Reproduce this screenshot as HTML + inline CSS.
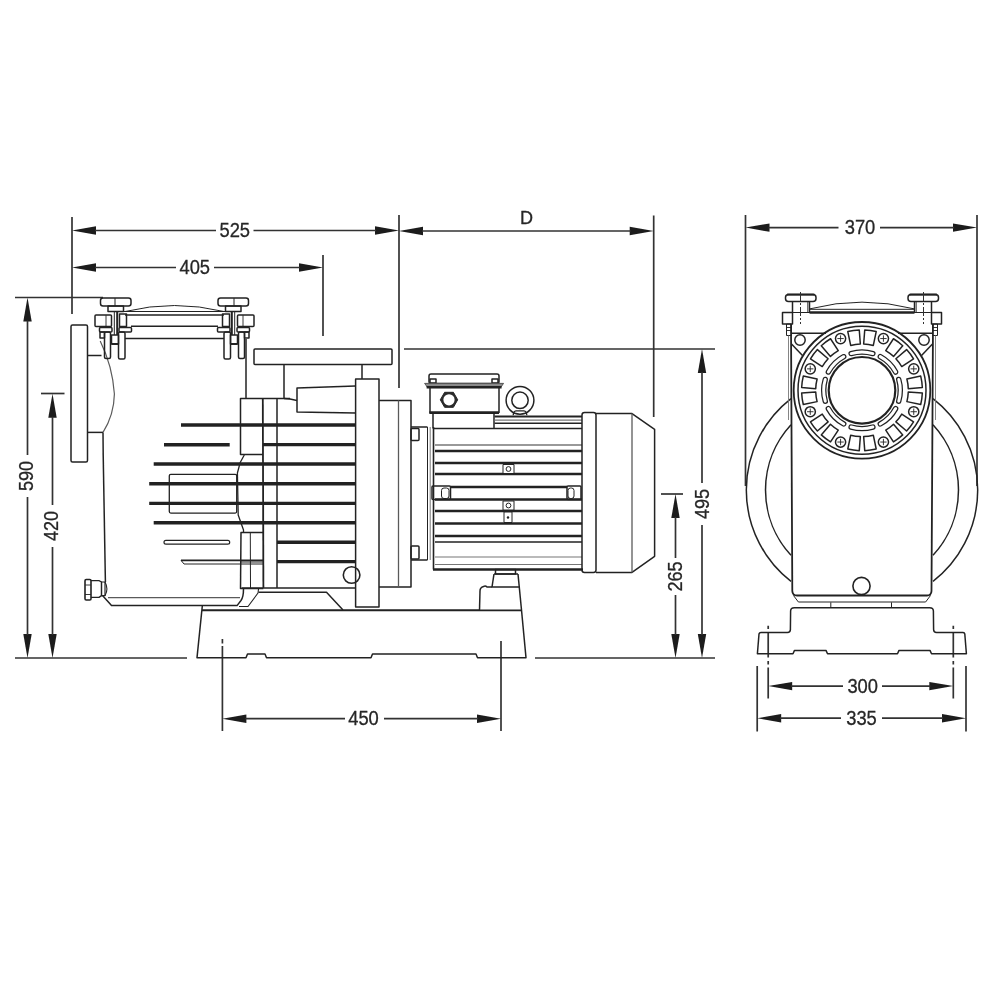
<!DOCTYPE html>
<html><head><meta charset="utf-8"><title>Pump dimensions</title>
<style>
html,body{margin:0;padding:0;background:#fff;}
body{width:1000px;height:1000px;overflow:hidden;font-family:"Liberation Sans",sans-serif;}
svg{display:block;}
svg *{vector-effect:none;}
#dr{fill:none;stroke:#242424;stroke-width:1.5;filter:url(#soft);stroke-linecap:butt;stroke-linejoin:round;}
#dr .dm{stroke:#333;stroke-width:1.7;}
#dr .g{stroke:#777;}
#dr .g2{stroke:#5a5a5a;}
#dr .ar{fill:#1c1c1c;stroke:none;}
#dr .w{fill:#fff;}
#dr .dash{stroke-dasharray:3.2 4 24.6 3.4 3.5 3 40;}
#dr .cdash{stroke-dasharray:9 2 2 2;stroke-width:1;}
#dr text{fill:#262626;stroke:#262626;stroke-width:0.3;font-family:"Liberation Sans",sans-serif;text-anchor:middle;}
</style></head>
<body>
<svg width="1000" height="1000" viewBox="0 0 1000 1000">
<defs><filter id="soft" x="0" y="0" width="1000" height="1000" filterUnits="userSpaceOnUse"><feGaussianBlur stdDeviation="0.45"/></filter></defs>
<rect width="1000" height="1000" fill="#fff"/>
<g id="dr">
<g id="dims">
<line x1="72" y1="217" x2="72" y2="314" class="dm"/>
<line x1="399" y1="215" x2="399" y2="388" class="dm"/>
<polygon class="ar" points="72,230.5 96,226.3 96,234.7"/>
<polygon class="ar" points="399,230.5 375,226.3 375,234.7"/>
<line x1="95" y1="230.5" x2="216" y2="230.5" class="dm"/>
<line x1="253.5" y1="230.5" x2="376" y2="230.5" class="dm"/>
<text x="234.75" y="237.1" font-size="20" textLength="30.6" lengthAdjust="spacingAndGlyphs">525</text>
<line x1="323" y1="255" x2="323" y2="336" class="dm"/>
<polygon class="ar" points="72,267.5 96,263.3 96,271.7"/>
<polygon class="ar" points="323,267.5 299,263.3 299,271.7"/>
<line x1="95" y1="267.5" x2="176" y2="267.5" class="dm"/>
<line x1="214" y1="267.5" x2="300" y2="267.5" class="dm"/>
<text x="194.75" y="274.1" font-size="20" textLength="30.6" lengthAdjust="spacingAndGlyphs">405</text>
<line x1="653.7" y1="215.5" x2="653.7" y2="417" class="dm"/>
<polygon class="ar" points="399,231 423,226.8 423,235.2"/>
<polygon class="ar" points="653.7,231 629.7,226.8 629.7,235.2"/>
<line x1="422" y1="231" x2="630.7" y2="231" class="dm"/>
<text x="0" y="237.6" font-size="20" textLength="30.6" lengthAdjust="spacingAndGlyphs"></text>
<text x="526.6" y="224.2" font-size="18" stroke-width="0.7">D</text>
<line x1="15" y1="297.5" x2="103" y2="297.5" class="dm"/>
<line x1="15" y1="658" x2="187" y2="658" class="dm"/>
<polygon class="ar" points="27.5,297.5 23.3,321.5 31.7,321.5"/>
<polygon class="ar" points="27.5,658 23.3,634 31.7,634"/>
<line x1="27.5" y1="320.5" x2="27.5" y2="455" class="dm"/>
<line x1="27.5" y1="497" x2="27.5" y2="635" class="dm"/>
<text transform="translate(33.1 476) rotate(-90)" font-size="20" textLength="30.2" lengthAdjust="spacingAndGlyphs">590</text>
<line x1="41" y1="393.5" x2="64.5" y2="393.5" class="dm"/>
<polygon class="ar" points="52.5,393.7 48.3,417.7 56.7,417.7"/>
<polygon class="ar" points="52.5,658 48.3,634 56.7,634"/>
<line x1="52.5" y1="416.7" x2="52.5" y2="505" class="dm"/>
<line x1="52.5" y1="547" x2="52.5" y2="635" class="dm"/>
<text transform="translate(58.1 526) rotate(-90)" font-size="20" textLength="30.2" lengthAdjust="spacingAndGlyphs">420</text>
<line x1="222.4" y1="646" x2="222.4" y2="731" class="dm"/>
<line x1="222.4" y1="639" x2="222.4" y2="643.5" class="dm"/>
<line x1="501" y1="641" x2="501" y2="731" class="dm"/>
<polygon class="ar" points="222.4,718.7 246.4,714.5 246.4,722.9"/>
<polygon class="ar" points="501,718.7 477,714.5 477,722.9"/>
<line x1="245.4" y1="718.7" x2="345" y2="718.7" class="dm"/>
<line x1="384" y1="718.7" x2="478" y2="718.7" class="dm"/>
<text x="363.5" y="725.3" font-size="20" textLength="30.6" lengthAdjust="spacingAndGlyphs">450</text>
<line x1="661" y1="494" x2="683" y2="494" class="dm"/>
<polygon class="ar" points="675.5,494 671.3,518 679.7,518"/>
<polygon class="ar" points="675.5,658 671.3,634 679.7,634"/>
<line x1="675.5" y1="517" x2="675.5" y2="558" class="dm"/>
<line x1="675.5" y1="595" x2="675.5" y2="635" class="dm"/>
<text transform="translate(682.3 576.5) rotate(-90)" font-size="20" textLength="30.2" lengthAdjust="spacingAndGlyphs">265</text>
<line x1="404" y1="349" x2="715" y2="349" class="dm"/>
<line x1="535" y1="658" x2="715" y2="658" class="dm"/>
<polygon class="ar" points="702,349 697.8,373 706.2,373"/>
<polygon class="ar" points="702,658 697.8,634 706.2,634"/>
<line x1="702" y1="372" x2="702" y2="483" class="dm"/>
<line x1="702" y1="525" x2="702" y2="635" class="dm"/>
<text transform="translate(709.2 504) rotate(-90)" font-size="20" textLength="30.2" lengthAdjust="spacingAndGlyphs">495</text>
<line x1="745.5" y1="215" x2="745.5" y2="486" class="dm"/>
<line x1="977" y1="215" x2="977" y2="486" class="dm"/>
<polygon class="ar" points="745.5,227.6 769.5,223.4 769.5,231.8"/>
<polygon class="ar" points="977,227.6 953,223.4 953,231.8"/>
<line x1="768.5" y1="227.6" x2="838.5" y2="227.6" class="dm"/>
<line x1="880" y1="227.6" x2="954" y2="227.6" class="dm"/>
<text x="860" y="234.2" font-size="20" textLength="30.6" lengthAdjust="spacingAndGlyphs">370</text>
<path d="M768.2,625.8V698.5" class="dm dash"/>
<path d="M953.3,625.8V698.5" class="dm dash"/>
<polygon class="ar" points="768.2,686.1 792.2,681.9 792.2,690.3"/>
<polygon class="ar" points="953.3,686.1 929.3,681.9 929.3,690.3"/>
<line x1="791.2" y1="686.1" x2="843" y2="686.1" class="dm"/>
<line x1="882" y1="686.1" x2="930.3" y2="686.1" class="dm"/>
<text x="862.7" y="692.7" font-size="20" textLength="30.6" lengthAdjust="spacingAndGlyphs">300</text>
<line x1="757.2" y1="666" x2="757.2" y2="731.5" class="dm"/>
<line x1="966" y1="666" x2="966" y2="731.5" class="dm"/>
<polygon class="ar" points="757.2,718.2 781.2,714 781.2,722.4"/>
<polygon class="ar" points="966,718.2 942,714 942,722.4"/>
<line x1="780.2" y1="718.2" x2="841" y2="718.2" class="dm"/>
<line x1="882" y1="718.2" x2="943" y2="718.2" class="dm"/>
<text x="861.5" y="724.8" font-size="20" textLength="30.6" lengthAdjust="spacingAndGlyphs">335</text>
</g>
<g id="side">
<rect x="71" y="325" width="16.5" height="137" rx="1.5"/>
<line x1="87.5" y1="355.5" x2="101.5" y2="355.5"/>
<line x1="87.5" y1="432.4" x2="103" y2="432.4"/>
<path d="M100.2,341 Q112.5,366 114.4,394 Q114,415 103,432.4" class="g2" stroke-width="1.2"/>
<path d="M103,432.4 L103.2,455 L105.4,582"/>
<path d="M105,582 Q108.8,588.7 105,595.8" stroke-width="1.1"/>
<path d="M102.5,595.5 L111.5,605.6 H237 L241,600.5 Q243.5,597 243.5,589" stroke-width="1.5"/>
<polyline points="239,606.5 248,606.5 258,593 258.5,589" stroke-width="1.1"/>
<path d="M108,597.6 H240" class="g2" stroke-width="1.2"/>
<rect x="85" y="579.5" width="6" height="20.5" rx="1.2" stroke-width="1.6"/>
<line x1="85" y1="585" x2="91" y2="585" stroke-width="0.9"/>
<line x1="85" y1="594.5" x2="91" y2="594.5" stroke-width="0.9"/>
<polyline points="91,580.7 99,580.7 101.5,582 101.5,595.6 99,597.4 91,597.4" stroke-width="1.3"/>
<rect x="101.5" y="582" width="3.5" height="13.6" stroke-width="1.2"/>
<line x1="246" y1="339" x2="246" y2="398"/>
<path d="M125,311.5 Q174.5,299.5 224,311.5" stroke-width="1"/>
<line x1="123" y1="311.5" x2="226" y2="311.5" stroke-width="1"/>
<line x1="125" y1="315" x2="224" y2="315"/>
<line x1="131" y1="326.3" x2="218" y2="326.3"/>
<line x1="125" y1="338.5" x2="224" y2="338.5"/>
<rect x="100.5" y="298" width="30.5" height="8" rx="2.5"/>
<line x1="115" y1="298" x2="115" y2="306" stroke-width="1"/>
<rect x="108" y="306" width="15.5" height="5.5"/>
<rect x="95" y="315" width="16.5" height="11.5" rx="1"/>
<line x1="106" y1="315" x2="106" y2="326.5" stroke-width="0.9"/>
<rect x="119.5" y="314" width="7" height="12.5"/>
<line x1="114.3" y1="312" x2="114.3" y2="335" stroke-width="1"/>
<line x1="117.2" y1="312" x2="117.2" y2="335" stroke-width="2"/>
<rect x="99.5" y="327.5" width="12.5" height="4.5" rx="1"/>
<rect x="119" y="327.5" width="12.5" height="4.5" rx="1"/>
<rect x="100" y="332" width="4.5" height="6"/>
<rect x="104.5" y="332" width="6" height="26.5" rx="1.5"/>
<rect x="111.5" y="335" width="7" height="9"/>
<line x1="111.5" y1="344" x2="118.5" y2="344" stroke-width="2"/>
<rect x="118.5" y="332" width="6.5" height="27" rx="1.5"/>
<rect x="218" y="298" width="30.5" height="8" rx="2.5"/>
<line x1="234" y1="298" x2="234" y2="306" stroke-width="1"/>
<rect x="225.5" y="306" width="15.5" height="5.5"/>
<rect x="237.5" y="315" width="16.5" height="11.5" rx="1"/>
<line x1="243" y1="315" x2="243" y2="326.5" stroke-width="0.9"/>
<rect x="222.5" y="314" width="7" height="12.5"/>
<line x1="234.7" y1="312" x2="234.7" y2="335" stroke-width="1"/>
<line x1="231.8" y1="312" x2="231.8" y2="335" stroke-width="2"/>
<rect x="237" y="327.5" width="12.5" height="4.5" rx="1"/>
<rect x="217.5" y="327.5" width="12.5" height="4.5" rx="1"/>
<rect x="244.5" y="332" width="4.5" height="6"/>
<rect x="238.5" y="332" width="6" height="26.5" rx="1.5"/>
<rect x="230.5" y="335" width="7" height="9"/>
<line x1="237.5" y1="344" x2="230.5" y2="344" stroke-width="2"/>
<rect x="224" y="332" width="6.5" height="27" rx="1.5"/>
<line x1="181" y1="425" x2="355.6" y2="425" stroke-width="3.4"/>
<line x1="164" y1="444.8" x2="229.7" y2="444.8" stroke-width="3.4"/>
<line x1="263" y1="444.6" x2="355.6" y2="444.6" stroke-width="3.4"/>
<line x1="153.7" y1="464" x2="355.6" y2="464" stroke-width="3.4"/>
<line x1="149.2" y1="483.8" x2="355.6" y2="483.8" stroke-width="3.4"/>
<line x1="149.2" y1="503.4" x2="355.6" y2="503.4" stroke-width="3.4"/>
<line x1="153.7" y1="522.8" x2="355.6" y2="522.8" stroke-width="3.4"/>
<line x1="277" y1="542.3" x2="355.6" y2="542.3" stroke-width="3.4"/>
<line x1="277" y1="561.6" x2="355.6" y2="561.6" stroke-width="3.4"/>
<rect x="164" y="540.4" width="65.7" height="3.8" rx="1.9" stroke-width="1.2"/>
<path d="M181,560.3 H263" stroke-width="1.7"/>
<path d="M181,560.3 L184,564 H263" stroke-width="1"/>
<rect x="169.3" y="474.3" width="67.4" height="38.8" rx="1.5" stroke-width="1.3"/>
<polyline points="290,398.6 240.5,398.6 240.5,454.5 262.7,454.5"/>
<polyline points="244.3,455 240.2,462.5 237.4,473 238.2,515 243.5,530 243.5,532.4" stroke-width="1.3"/>
<line x1="262.8" y1="398.6" x2="263.4" y2="588" stroke-width="1.8"/>
<line x1="277" y1="398.6" x2="277" y2="588"/>
<polyline points="263,532.4 241,532.4 240.5,588.5 263.3,588.5"/>
<line x1="250.3" y1="532.4" x2="250.5" y2="588" stroke-width="1"/>
<line x1="241" y1="562" x2="263" y2="562" stroke-width="1"/>
<rect x="254" y="349" width="138" height="15.4" rx="1"/>
<line x1="284" y1="364.4" x2="284" y2="398.6"/>
<line x1="362" y1="364.4" x2="362" y2="379"/>
<polyline points="284,398.6 290,399 297,400.5"/>
<polyline points="355.6,386 297,388 297,412 355.6,413"/>
<rect x="355.6" y="379" width="23.4" height="228"/>
<polyline points="379,400.4 411,400.4 411,587 379,587"/>
<line x1="398.5" y1="400.4" x2="398.5" y2="587" class="g2" stroke-width="1.3"/>
<polyline points="411,427 427.5,427"/>
<polyline points="411,560 427.5,560"/>
<rect x="411" y="428.4" width="8" height="12" rx="1"/>
<rect x="411" y="546" width="8" height="13" rx="1"/>
<circle cx="351.6" cy="575" r="8.3" stroke-width="1.6"/>
<line x1="241.6" y1="588" x2="355.6" y2="588"/>
<polyline points="258.5,592.2 326.5,592.2 343,610"/>
<path d="M479.5,610.3 H202 M202.3,606 L197,657.7 H246 L247.5,654 H265 L266.5,657.7 H371 L372.5,654 H476 L477.5,657.7 H526 L521.5,610 L518,574"/>
<line x1="202" y1="610.4" x2="521.5" y2="610.4" stroke-width="1.6"/>
<rect x="495.5" y="569.5" width="20" height="4.5"/>
<polyline points="494,574 492,587 520,587"/>
<path d="M492,587 H487 Q485.5,585.5 483.5,586.5 Q480,587.5 480,591 L479.5,610.3"/>
<line x1="494" y1="574" x2="518" y2="574"/>
<rect x="429" y="374" width="70" height="9.5" rx="2"/>
<rect x="430" y="379" width="6" height="4"/>
<rect x="492" y="379" width="6" height="4"/>
<path d="M424.6,383.4 H503.6 L500.5,387.6 H427.7 Z" fill="#8a8a8a" stroke="#555" stroke-width="1"/>
<line x1="426.6" y1="387.2" x2="501.6" y2="387.2" stroke-width="2.4"/>
<polyline points="430,388 430,413"/>
<polyline points="499,388 499,413"/>
<line x1="429.3" y1="412.6" x2="499" y2="412.6" stroke-width="2.8"/>
<polyline points="433,413 433,428.5"/>
<polyline points="494,413 494,428.5"/>
<polygon points="440.3,399.8 444.6,392.3 453.4,392.3 457.7,399.8 453.4,407.3 444.6,407.3" fill="#2c2c2c" stroke-width="1"/>
<circle cx="449" cy="399.8" r="5.6" fill="#fff" stroke="none"/>
<circle cx="520" cy="400.3" r="13.9"/>
<circle cx="520" cy="400.3" r="8.2"/>
<path d="M513.2,415.3 Q513.4,411 516,410.8 H524 Q526.6,411 526.8,415.3" stroke-width="1.3"/>
<line x1="494.5" y1="416.6" x2="582" y2="416.6" stroke-width="2"/>
<line x1="494.5" y1="420.2" x2="582" y2="420.2" class="g" stroke-width="1.2"/>
<line x1="494.5" y1="423.3" x2="582" y2="423.3" stroke-width="1.6"/>
<line x1="433" y1="428.5" x2="582" y2="428.5" stroke-width="1.5"/>
<line x1="427.5" y1="427" x2="427.5" y2="560" stroke-width="1"/>
<line x1="430.2" y1="427" x2="430.2" y2="560" class="g" stroke-width="1"/>
<line x1="433.5" y1="427" x2="433.5" y2="569.5" stroke-width="1.6"/>
<line x1="435" y1="445" x2="582" y2="445" class="g" stroke-width="1.4"/>
<line x1="435" y1="451" x2="582" y2="451" stroke-width="2.3"/>
<line x1="435" y1="463" x2="582" y2="463" stroke-width="2.3"/>
<line x1="435" y1="474" x2="582" y2="474" stroke-width="2.3"/>
<line x1="435" y1="511" x2="582" y2="511" stroke-width="2.3"/>
<line x1="435" y1="523.5" x2="582" y2="523.5" stroke-width="2.3"/>
<line x1="435" y1="536" x2="582" y2="536" stroke-width="2.3"/>
<line x1="450.5" y1="487" x2="567" y2="487" stroke-width="2.3"/>
<line x1="435" y1="499.5" x2="582" y2="499.5" stroke-width="2.3"/>
<line x1="435" y1="542" x2="582" y2="542" stroke-width="1.5"/>
<line x1="435" y1="557" x2="582" y2="557" class="g" stroke-width="1.2"/>
<line x1="435" y1="564.5" x2="582" y2="564.5" class="g" stroke-width="1.2"/>
<line x1="433" y1="569.5" x2="583" y2="569.5" stroke-width="2.5"/>
<rect x="432" y="486" width="18.5" height="13.5" rx="1"/>
<rect x="441.5" y="488" width="7.5" height="10.5" rx="2.5" stroke-width="1"/>
<rect x="567" y="486" width="14" height="13.5" rx="1"/>
<rect x="568" y="488" width="6" height="10.5" rx="2.5" stroke-width="1"/>
<g class="w">
<rect x="503" y="464.5" width="11" height="9" stroke-width="1"/>
<circle cx="508.5" cy="469" r="2.4" stroke-width="1"/>
<rect x="503" y="501" width="11" height="9" stroke-width="1"/>
<circle cx="508.5" cy="505.5" r="2.4" stroke-width="1"/>
<rect x="504" y="512" width="8" height="10.5" stroke-width="1"/>
</g>
<circle cx="508" cy="517.5" r="1.2" class="ar"/>
<rect x="582" y="412.4" width="14" height="160" rx="2.5"/>
<polyline points="596,413.6 632,413.6 654.6,429.3 654.6,556.3 632,572.4 596,572.4"/>
<line x1="632" y1="413.6" x2="632" y2="572.4" class="g2" stroke-width="1.3"/>
</g>
<g id="end">
<path d="M791,398.65 A115.7,115.7 0 0 0 791,581.35"/>
<path d="M933,398.65 A115.7,115.7 0 0 1 933,581.35"/>
<path d="M791,424.65 A96.5,96.5 0 0 0 791,555.35"/>
<path d="M933,424.65 A96.5,96.5 0 0 1 933,555.35"/>
<path d="M791,324 L792.3,591 Q792.5,595.5 797,595.5 H927 Q931.3,595.5 931.5,591 L933,324" stroke-width="1.8"/>
<polyline points="793.4,595.4 798.4,602 925.6,602 930.6,595.4" stroke-width="1"/>
<line x1="830.8" y1="602.4" x2="830.8" y2="607.6" stroke-width="1"/>
<line x1="891.5" y1="602.4" x2="891.5" y2="607.6" stroke-width="1"/>
<circle cx="861.5" cy="586" r="8.6" stroke-width="1.6"/>
<path d="M794.3,607.8 H929.7 Q933.3,607.8 933.4,611 L933.6,629.5 Q933.7,632.5 936.5,632.5 H963 Q964.5,632.6 964.8,634 L966.4,653.7 H931.5 L930,650.4 H899 L897.5,653.7 H827.5 L826,650.4 H794.5 L793,653.7 H757.4 L759,634 Q759.3,632.5 761,632.5 H787.5 Q790.3,632.5 790.4,629.5 L790.6,611 Q790.7,607.8 794.3,607.8 Z"/>
<path d="M810,308.8 Q862,295.5 914,308.8" stroke-width="1"/>
<line x1="810" y1="309.3" x2="914" y2="309.3" stroke-width="1"/>
<line x1="782.5" y1="312.5" x2="941.5" y2="312.5" stroke-width="1"/>
<line x1="809.5" y1="312.5" x2="914.5" y2="312.5" stroke-width="2.6"/>
<line x1="791" y1="333.3" x2="826" y2="333.3"/>
<line x1="898" y1="333.3" x2="933" y2="333.3"/>
<rect x="785.5" y="294.5" width="30.5" height="7" rx="3"/>
<line x1="787" y1="294.6" x2="814.5" y2="294.6" stroke-width="2"/>
<line x1="792.5" y1="301.5" x2="792.5" y2="312.5"/>
<line x1="809.5" y1="301.5" x2="809.5" y2="312.5"/>
<line x1="807.8" y1="301.5" x2="807.8" y2="312.5" stroke-width="0.9"/>
<rect x="782.5" y="312.5" width="10" height="11.5"/>
<rect x="786.5" y="324" width="5" height="11.5" stroke-width="1"/>
<line x1="786.5" y1="327.5" x2="791.5" y2="327.5" stroke-width="0.9"/>
<line x1="786.5" y1="330.5" x2="791.5" y2="330.5" stroke-width="0.9"/>
<path d="M800.5,292 V324" class="dm cdash"/>
<line x1="788.5" y1="335.5" x2="788.5" y2="420" class="g" stroke-width="0.9"/>
<circle cx="800" cy="340" r="5.2"/>
<line x1="791.5" y1="344" x2="802.5" y2="355.5"/>
<rect x="908" y="294.5" width="30.5" height="7" rx="3"/>
<line x1="937" y1="294.6" x2="909.5" y2="294.6" stroke-width="2"/>
<line x1="931.5" y1="301.5" x2="931.5" y2="312.5"/>
<line x1="914.5" y1="301.5" x2="914.5" y2="312.5"/>
<line x1="916.2" y1="301.5" x2="916.2" y2="312.5" stroke-width="0.9"/>
<rect x="931.5" y="312.5" width="10" height="11.5"/>
<rect x="932.5" y="324" width="5" height="11.5" stroke-width="1"/>
<line x1="937.5" y1="327.5" x2="932.5" y2="327.5" stroke-width="0.9"/>
<line x1="937.5" y1="330.5" x2="932.5" y2="330.5" stroke-width="0.9"/>
<path d="M923.5,292 V324" class="dm cdash"/>
<line x1="935.5" y1="335.5" x2="935.5" y2="420" class="g" stroke-width="0.9"/>
<circle cx="924" cy="340" r="5.2"/>
<line x1="932.5" y1="344" x2="921.5" y2="355.5"/>
<circle cx="862" cy="390.3" r="68.3" stroke-width="1.8"/>
<circle cx="862" cy="390.3" r="64"/>
<circle cx="862" cy="390.3" r="33.3" stroke-width="2.2"/>
<path d="M850.53,351.56 A40.4,40.4 0 0 1 873.47,351.56 A2.1,2.1 0 0 1 872.28,355.59 A36.2,36.2 0 0 0 851.72,355.59 A2.1,2.1 0 0 1 850.53,351.56 Z" stroke-width="1.25"/>
<path d="M881.28,354.8 A40.4,40.4 0 0 1 897.5,371.02 A2.1,2.1 0 0 1 893.81,373.03 A36.2,36.2 0 0 0 879.27,358.49 A2.1,2.1 0 0 1 881.28,354.8 Z" stroke-width="1.25"/>
<path d="M900.74,378.83 A40.4,40.4 0 0 1 900.74,401.77 A2.1,2.1 0 0 1 896.71,400.58 A36.2,36.2 0 0 0 896.71,380.02 A2.1,2.1 0 0 1 900.74,378.83 Z" stroke-width="1.25"/>
<path d="M897.5,409.58 A40.4,40.4 0 0 1 881.28,425.8 A2.1,2.1 0 0 1 879.27,422.11 A36.2,36.2 0 0 0 893.81,407.57 A2.1,2.1 0 0 1 897.5,409.58 Z" stroke-width="1.25"/>
<path d="M873.47,429.04 A40.4,40.4 0 0 1 850.53,429.04 A2.1,2.1 0 0 1 851.72,425.01 A36.2,36.2 0 0 0 872.28,425.01 A2.1,2.1 0 0 1 873.47,429.04 Z" stroke-width="1.25"/>
<path d="M842.72,425.8 A40.4,40.4 0 0 1 826.5,409.58 A2.1,2.1 0 0 1 830.19,407.57 A36.2,36.2 0 0 0 844.73,422.11 A2.1,2.1 0 0 1 842.72,425.8 Z" stroke-width="1.25"/>
<path d="M823.26,401.77 A40.4,40.4 0 0 1 823.26,378.83 A2.1,2.1 0 0 1 827.29,380.02 A36.2,36.2 0 0 0 827.29,400.58 A2.1,2.1 0 0 1 823.26,401.77 Z" stroke-width="1.25"/>
<path d="M826.5,371.02 A40.4,40.4 0 0 1 842.72,354.8 A2.1,2.1 0 0 1 844.73,358.49 A36.2,36.2 0 0 0 830.19,373.03 A2.1,2.1 0 0 1 826.5,371.02 Z" stroke-width="1.25"/>
<path d="M864.74,329.96 A60.4,60.4 0 0 1 876.2,331.59 L873.32,345.4 A46.3,46.3 0 0 0 863.66,344.03 Z" stroke-width="1.5"/>
<circle cx="883.43" cy="338.56" r="5.1"/>
<line x1="880.23" y1="338.56" x2="886.63" y2="338.56" stroke-width="0.9"/>
<line x1="883.43" y1="335.36" x2="883.43" y2="341.76" stroke-width="0.9"/>
<path d="M893.47,338.75 A60.4,60.4 0 0 1 902.73,345.7 L893.55,356.41 A46.3,46.3 0 0 0 885.74,350.55 Z" stroke-width="1.5"/>
<path d="M906.6,349.57 A60.4,60.4 0 0 1 913.55,358.83 L901.75,366.56 A46.3,46.3 0 0 0 895.89,358.75 Z" stroke-width="1.5"/>
<circle cx="913.74" cy="368.87" r="5.1"/>
<line x1="910.54" y1="368.87" x2="916.94" y2="368.87" stroke-width="0.9"/>
<line x1="913.74" y1="365.67" x2="913.74" y2="372.07" stroke-width="0.9"/>
<path d="M920.71,376.1 A60.4,60.4 0 0 1 922.34,387.56 L908.27,388.64 A46.3,46.3 0 0 0 906.9,378.98 Z" stroke-width="1.5"/>
<path d="M922.34,393.04 A60.4,60.4 0 0 1 920.71,404.5 L906.9,401.62 A46.3,46.3 0 0 0 908.27,391.96 Z" stroke-width="1.5"/>
<circle cx="913.74" cy="411.73" r="5.1"/>
<line x1="910.54" y1="411.73" x2="916.94" y2="411.73" stroke-width="0.9"/>
<line x1="913.74" y1="408.53" x2="913.74" y2="414.93" stroke-width="0.9"/>
<path d="M913.55,421.77 A60.4,60.4 0 0 1 906.6,431.03 L895.89,421.85 A46.3,46.3 0 0 0 901.75,414.04 Z" stroke-width="1.5"/>
<path d="M902.73,434.9 A60.4,60.4 0 0 1 893.47,441.85 L885.74,430.05 A46.3,46.3 0 0 0 893.55,424.19 Z" stroke-width="1.5"/>
<circle cx="883.43" cy="442.04" r="5.1"/>
<line x1="880.23" y1="442.04" x2="886.63" y2="442.04" stroke-width="0.9"/>
<line x1="883.43" y1="438.84" x2="883.43" y2="445.24" stroke-width="0.9"/>
<path d="M876.2,449.01 A60.4,60.4 0 0 1 864.74,450.64 L863.66,436.57 A46.3,46.3 0 0 0 873.32,435.2 Z" stroke-width="1.5"/>
<path d="M859.26,450.64 A60.4,60.4 0 0 1 847.8,449.01 L850.68,435.2 A46.3,46.3 0 0 0 860.34,436.57 Z" stroke-width="1.5"/>
<circle cx="840.57" cy="442.04" r="5.1"/>
<line x1="837.37" y1="442.04" x2="843.77" y2="442.04" stroke-width="0.9"/>
<line x1="840.57" y1="438.84" x2="840.57" y2="445.24" stroke-width="0.9"/>
<path d="M830.53,441.85 A60.4,60.4 0 0 1 821.27,434.9 L830.45,424.19 A46.3,46.3 0 0 0 838.26,430.05 Z" stroke-width="1.5"/>
<path d="M817.4,431.03 A60.4,60.4 0 0 1 810.45,421.77 L822.25,414.04 A46.3,46.3 0 0 0 828.11,421.85 Z" stroke-width="1.5"/>
<circle cx="810.26" cy="411.73" r="5.1"/>
<line x1="807.06" y1="411.73" x2="813.46" y2="411.73" stroke-width="0.9"/>
<line x1="810.26" y1="408.53" x2="810.26" y2="414.93" stroke-width="0.9"/>
<path d="M803.29,404.5 A60.4,60.4 0 0 1 801.66,393.04 L815.73,391.96 A46.3,46.3 0 0 0 817.1,401.62 Z" stroke-width="1.5"/>
<path d="M801.66,387.56 A60.4,60.4 0 0 1 803.29,376.1 L817.1,378.98 A46.3,46.3 0 0 0 815.73,388.64 Z" stroke-width="1.5"/>
<circle cx="810.26" cy="368.87" r="5.1"/>
<line x1="807.06" y1="368.87" x2="813.46" y2="368.87" stroke-width="0.9"/>
<line x1="810.26" y1="365.67" x2="810.26" y2="372.07" stroke-width="0.9"/>
<path d="M810.45,358.83 A60.4,60.4 0 0 1 817.4,349.57 L828.11,358.75 A46.3,46.3 0 0 0 822.25,366.56 Z" stroke-width="1.5"/>
<path d="M821.27,345.7 A60.4,60.4 0 0 1 830.53,338.75 L838.26,350.55 A46.3,46.3 0 0 0 830.45,356.41 Z" stroke-width="1.5"/>
<circle cx="840.57" cy="338.56" r="5.1"/>
<line x1="837.37" y1="338.56" x2="843.77" y2="338.56" stroke-width="0.9"/>
<line x1="840.57" y1="335.36" x2="840.57" y2="341.76" stroke-width="0.9"/>
<path d="M847.8,331.59 A60.4,60.4 0 0 1 859.26,329.96 L860.34,344.03 A46.3,46.3 0 0 0 850.68,345.4 Z" stroke-width="1.5"/>
</g>
</g>
</svg>
</body></html>
